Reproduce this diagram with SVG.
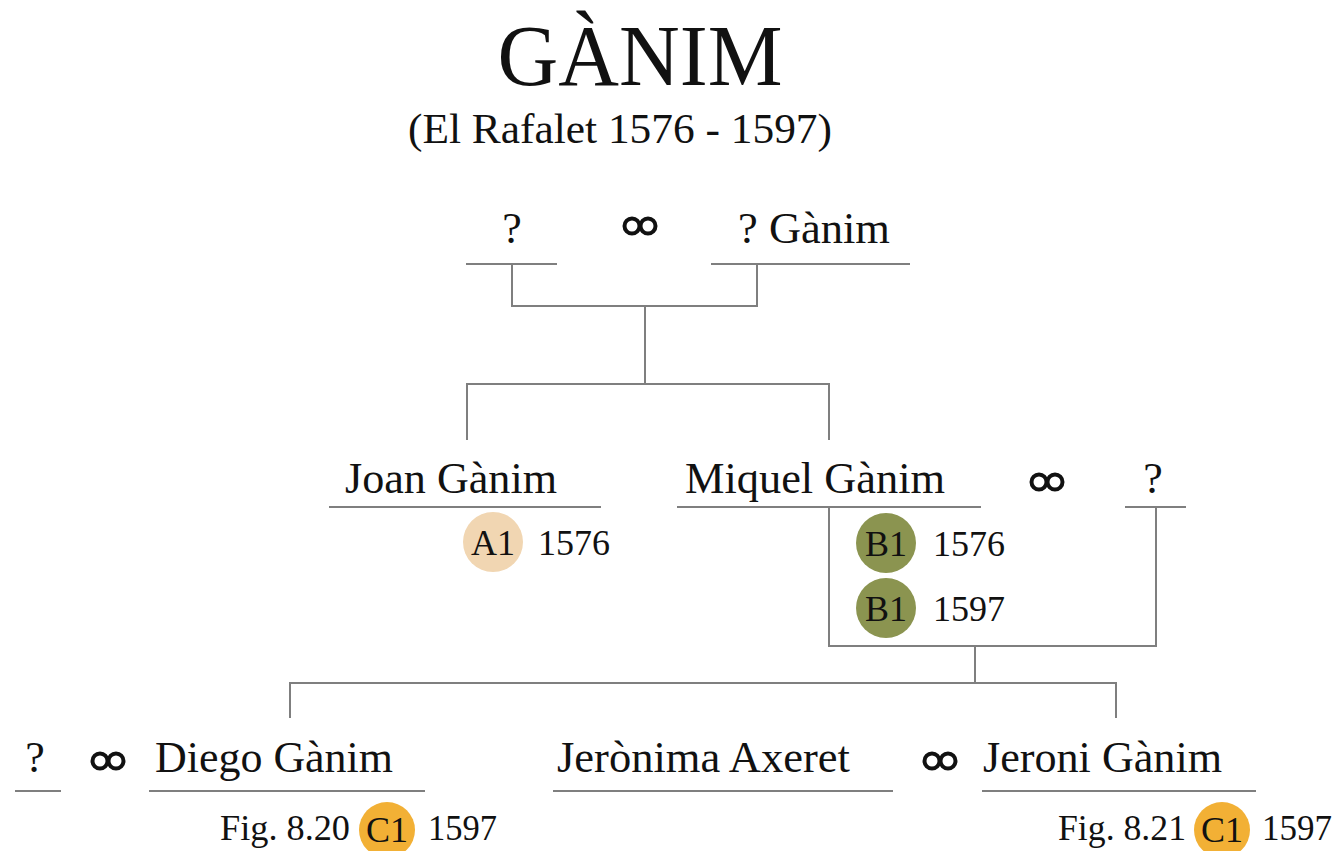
<svg xmlns="http://www.w3.org/2000/svg" width="1341" height="851" viewBox="0 0 1341 851">
<style>
text{font-family:"Liberation Serif","Times New Roman",serif;fill:#111}
.t{font-size:86px}
.s{font-size:42px}
.n{font-size:44px}
.y{font-size:36px}
.c{font-size:36px;text-anchor:middle}
.ln{stroke:#7f7f7f;stroke-width:2;fill:none}
.ring{fill:none;stroke:#111;stroke-width:4}
.a{fill:#f1d6b2}
.b{fill:#8b9450}
.o{fill:#f2b035}
</style>
<defs>
<g id="rings"><circle class="ring" cx="-8" cy="0" r="7.5"/><circle class="ring" cx="8" cy="0" r="7.5"/></g>
</defs>
<rect width="1341" height="851" fill="#fff"/>
<g id="title">
<text class="t" x="640" y="85" text-anchor="middle" textLength="285" lengthAdjust="spacingAndGlyphs">GÀNIM</text>
<text class="s" x="620" y="143" text-anchor="middle" textLength="424" lengthAdjust="spacingAndGlyphs">(El Rafalet 1576 - 1597)</text>
</g>
<g id="connectors">
<path class="ln" d="M466 264H557M711 264H910"/>
<path class="ln" d="M512 264V306H757V264M645 306V384M467 440V384H829V440"/>
<path class="ln" d="M329 507H601M677 507H981M1125 507H1186"/>
<path class="ln" d="M829 507V646H1156V507M975 646V683M290 718V683H1116V718"/>
<path class="ln" d="M15 791H61M149 791H425M553 791H893M982 791H1256"/>
</g>
<g id="n-parent1"><text class="n" x="512" y="243" text-anchor="middle">?</text></g>
<g id="m-top"><use href="#rings" x="640" y="226"/></g>
<g id="n-parent2"><text class="n" x="738" y="243" textLength="152" lengthAdjust="spacingAndGlyphs">? Gànim</text></g>
<g id="n-joan">
<text class="n" x="345" y="493" textLength="212" lengthAdjust="spacingAndGlyphs">Joan Gànim</text>
<circle class="a" cx="493" cy="542" r="30"/>
<text class="c" x="493" y="555">A1</text>
<text class="y" x="538" y="555">1576</text>
</g>
<g id="n-miquel">
<text class="n" x="685" y="493" textLength="260" lengthAdjust="spacingAndGlyphs">Miquel Gànim</text>
<circle class="b" cx="886" cy="543" r="30"/>
<text class="c" x="886" y="556">B1</text>
<text class="y" x="933" y="556">1576</text>
<circle class="b" cx="886" cy="608" r="30"/>
<text class="c" x="886" y="621">B1</text>
<text class="y" x="933" y="621">1597</text>
</g>
<g id="m-miquel"><use href="#rings" x="1047" y="482"/></g>
<g id="n-miquel-spouse"><text class="n" x="1153" y="493" text-anchor="middle">?</text></g>
<g id="n-diego-spouse"><text class="n" x="35" y="772" text-anchor="middle">?</text></g>
<g id="m-diego"><use href="#rings" x="108" y="761"/></g>
<g id="n-diego">
<text class="n" x="155" y="772" textLength="238" lengthAdjust="spacingAndGlyphs">Diego Gànim</text>
<text class="y" x="220" y="840" textLength="130" lengthAdjust="spacingAndGlyphs">Fig. 8.20</text>
<circle class="o" cx="387" cy="830" r="28"/>
<text class="c" x="387" y="842">C1</text>
<text class="y" x="428" y="840" textLength="69" lengthAdjust="spacingAndGlyphs">1597</text>
</g>
<g id="n-jeronima"><text class="n" x="557" y="772" textLength="293" lengthAdjust="spacingAndGlyphs">Jerònima Axeret</text></g>
<g id="m-jeroni"><use href="#rings" x="940" y="761"/></g>
<g id="n-jeroni">
<text class="n" x="983" y="772" textLength="239" lengthAdjust="spacingAndGlyphs">Jeroni Gànim</text>
<text class="y" x="1058" y="840" textLength="128" lengthAdjust="spacingAndGlyphs">Fig. 8.21</text>
<circle class="o" cx="1222" cy="830" r="28"/>
<text class="c" x="1222" y="842">C1</text>
<text class="y" x="1262" y="840" textLength="70" lengthAdjust="spacingAndGlyphs">1597</text>
</g>
</svg>
